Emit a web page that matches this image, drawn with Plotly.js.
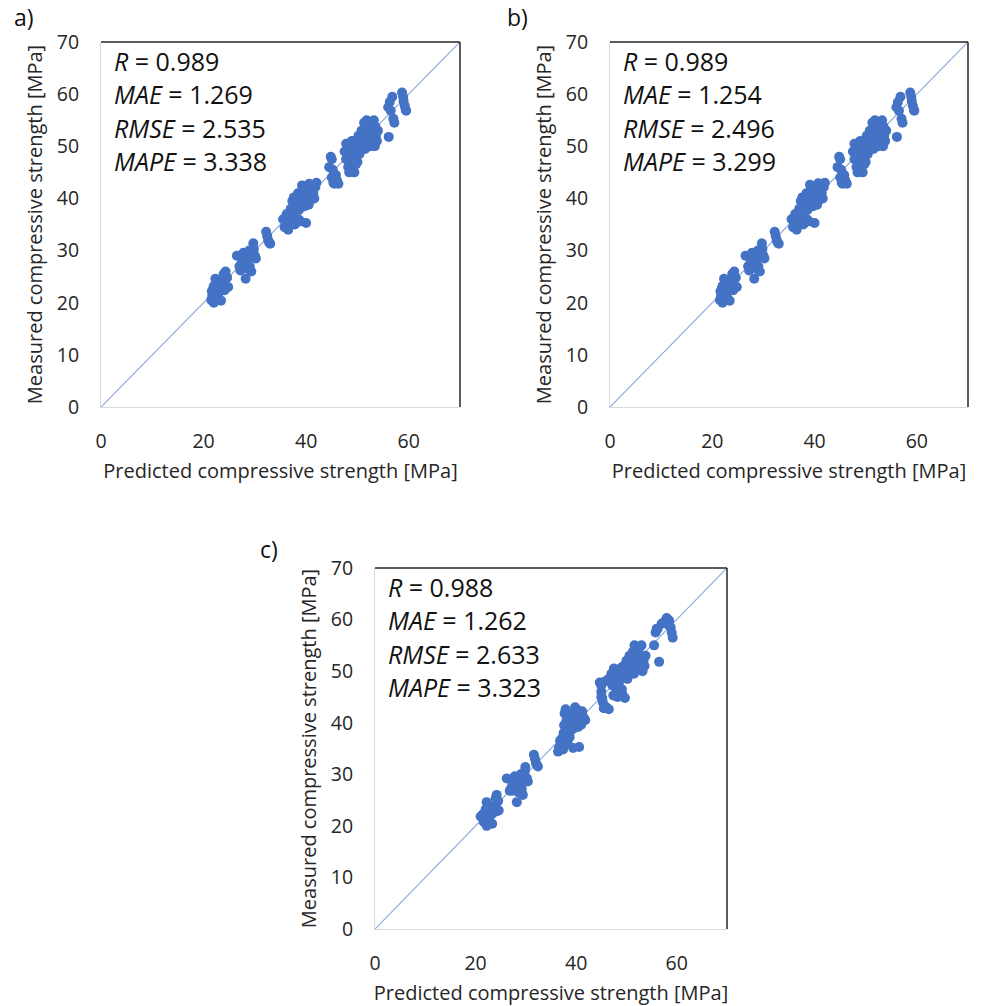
<!DOCTYPE html>
<html>
<head>
<meta charset="utf-8">
<script src="https://cdn.plot.ly/plotly-3.0.1.min.js"></script>
<style>html,body{margin:0;padding:0;background:#fff;} #chart{width:981px;height:1006px;}</style>
</head>
<body>
<div id="chart"></div>
<script>
// ---- Data ----
const predA = [21.5,21.7,21.6,21.9,22.0,22.3,22.6,22.4,22.9,23.1,23.4,22.3,23.7,23.9,24.3,24.6,24.8,24.1,22.0,22.7,23.4,
  26.5,27.0,27.2,27.5,27.8,28.0,28.2,28.5,28.7,28.9,29.0,29.3,29.5,29.7,30.0,30.2,27.3,28.4,29.8,
  32.2,32.4,32.6,32.8,33.0,
  35.5,35.8,36.0,36.2,36.3,36.5,36.8,37.0,37.2,37.3,37.5,37.6,37.8,38.0,38.2,38.4,38.6,38.8,39.0,39.2,39.4,38.9,39.7,39.9,40.0,40.2,40.4,40.6,40.8,41.0,41.2,41.4,41.6,41.8,42.0,38.5,37.0,36.6,39.6,40.5,
  44.5,44.8,45.0,45.0,45.3,45.5,45.8,46.0,46.3,45.2,
  47.5,47.8,48.0,48.2,48.4,48.6,48.8,49.0,49.2,49.4,49.6,49.8,50.0,50.2,50.4,50.6,50.8,51.0,51.2,51.4,51.6,51.8,52.0,52.2,52.4,52.6,52.8,53.0,53.2,53.4,53.6,53.8,54.0,49.0,50.5,48.5,51.5,52.5,47.8,50.0,49.7,48.9,51.3,53.5,
  56.0,56.3,56.5,56.8,57.0,57.2,56.1,58.7,58.9,59.0,59.2,59.4,59.5];
const measA = [20.5,21.3,22.2,22.8,20.0,21.5,22.6,23.4,20.9,22.1,23.0,24.6,24.0,25.5,26.0,24.8,23.0,22.4,23.2,20.6,20.4,
  29.0,27.0,26.2,28.0,29.6,27.5,24.6,26.5,28.3,30.0,27.0,26.0,29.2,31.4,29.0,28.5,26.8,29.0,30.3,
  33.6,32.8,32.0,31.5,31.3,
  36.0,34.5,35.5,37.0,36.2,34.0,35.8,38.0,36.5,39.5,37.5,40.2,35.0,38.5,39.8,41.0,37.8,40.5,39.0,42.5,41.2,35.6,38.5,40.0,35.3,39.5,41.5,42.8,40.5,39.8,42.0,41.0,40.0,42.2,43.0,36.0,37.0,36.8,40.8,38.8,
  46.0,48.0,47.5,44.0,43.0,42.8,44.5,43.5,42.8,45.5,
  49.0,50.5,48.0,46.0,45.0,49.5,47.0,50.0,48.5,45.0,51.0,49.0,50.2,52.0,48.5,51.5,53.0,50.0,52.5,51.0,53.5,55.0,52.0,50.5,53.0,54.0,51.5,52.5,55.0,50.0,52.0,51.0,53.0,47.5,49.5,48.8,49.5,50.0,47.5,47.0,46.5,51.0,54.5,53.8,
  57.5,58.5,56.8,59.5,55.3,54.5,51.8,60.3,59.5,58.7,57.8,57.0,56.8];

const predB = [21.5,21.7,21.6,21.9,22.0,22.3,22.6,22.4,22.9,23.1,23.4,22.3,23.7,23.9,24.3,24.6,24.8,24.1,22.0,22.7,23.4,
  26.5,27.0,27.2,27.5,27.8,28.0,28.2,28.5,28.7,28.9,29.0,29.3,29.5,29.7,30.0,30.2,27.3,28.4,29.8,
  32.2,32.4,32.6,32.8,33.0,
  35.5,35.8,36.0,36.2,36.3,36.5,36.8,37.0,37.2,37.3,37.5,37.6,37.8,38.0,38.2,38.4,38.6,38.8,39.0,39.1,39.4,38.9,39.7,39.9,40.0,40.2,40.4,40.7,40.8,41.0,41.2,41.4,41.6,41.8,42.0,38.5,37.0,36.6,39.6,40.5,
  44.5,44.8,45.0,45.0,45.3,45.5,45.8,46.0,46.3,45.2,
  47.5,47.8,48.0,48.2,48.4,48.6,48.8,49.0,49.2,49.4,49.6,49.8,50.0,50.2,50.4,50.6,50.8,51.0,51.2,51.4,51.6,51.8,52.0,52.2,52.4,52.6,52.8,53.0,53.2,53.4,53.6,53.8,54.0,49.0,50.5,48.5,51.5,52.5,47.8,50.0,49.7,48.9,51.3,53.5,
  56.0,56.3,56.5,56.8,57.0,57.2,56.1,58.7,58.9,59.0,59.2,59.4,59.5];
const measB = [20.5,21.3,22.2,22.8,20.0,21.5,22.6,23.4,20.9,22.1,23.0,24.6,24.0,25.5,26.0,24.8,23.0,22.4,23.2,20.6,20.4,
  29.0,27.0,26.2,28.0,29.6,27.5,24.6,26.5,28.3,30.0,27.0,26.0,29.2,31.4,29.0,28.5,26.8,29.0,30.3,
  33.6,32.8,32.0,31.5,31.3,
  36.0,34.5,35.5,37.0,36.2,34.0,35.8,38.0,36.5,39.5,37.5,40.2,35.0,38.5,39.8,41.0,37.8,40.5,39.0,42.6,41.2,35.6,38.5,40.0,35.3,39.5,41.5,42.9,40.5,39.8,42.0,41.0,40.0,42.2,43.0,36.0,37.0,36.8,40.8,38.8,
  46.0,48.0,47.5,44.0,43.0,42.8,44.5,43.5,42.8,45.5,
  49.0,50.5,48.0,46.0,45.0,49.5,47.0,50.0,48.5,45.0,51.0,49.0,50.2,52.0,48.5,51.5,53.0,50.0,52.5,51.0,53.5,55.0,52.0,50.5,53.0,54.0,51.5,52.5,55.0,50.0,52.0,51.0,53.0,47.5,49.5,48.8,49.5,50.0,47.5,47.0,46.5,51.0,54.5,53.8,
  57.5,58.5,56.8,59.5,55.3,54.5,51.8,60.3,59.5,58.7,57.8,57.0,56.8];

const predC = [21.0,21.4,21.6,21.9,22.2,22.5,22.8,22.4,22.9,23.2,23.5,22.2,23.8,24.0,24.2,24.5,24.6,24.1,22.0,22.7,23.3,
  26.2,26.8,27.1,27.4,27.8,28.0,28.2,28.5,28.7,29.0,29.2,29.4,29.6,29.9,30.2,30.4,27.3,28.4,29.8,
  31.6,31.8,32.0,32.2,32.4,
  36.4,36.6,36.8,37.0,37.2,37.3,37.5,37.6,37.8,38.0,38.2,38.4,38.6,38.8,37.4,37.9,38.3,38.7,37.1,37.7,
  39.0,39.2,39.4,39.6,39.8,40.0,40.2,40.4,40.6,40.8,41.0,41.2,41.5,41.8,39.4,40.6,39.7,40.3,
  44.7,45.0,45.0,45.3,45.5,45.0,46.0,46.5,45.7,45.2,
  46.5,47.0,47.2,47.5,47.8,48.0,48.2,48.4,48.6,48.8,49.0,49.2,49.4,49.6,49.8,50.0,50.2,50.4,50.6,50.8,51.0,51.2,51.4,51.6,51.8,52.0,52.2,52.4,52.6,52.8,53.0,53.2,53.4,53.6,53.8,47.4,48.3,49.1,50.3,51.5,52.5,49.7,48.9,51.3,
  55.5,55.8,56.0,56.5,57.5,58.0,58.5,58.8,59.0,59.2,58.3,57.0,56.2];
const measC = [21.8,22.2,20.8,22.6,20.0,21.5,22.4,23.4,20.6,22.2,23.2,24.6,24.0,25.4,26.0,24.8,23.0,22.8,23.2,20.8,20.4,
  29.2,26.8,27.4,28.0,29.6,27.5,24.6,26.5,28.3,30.0,27.2,26.0,29.2,31.4,29.2,28.6,26.8,29.0,30.6,
  33.8,33.0,32.2,31.8,31.5,
  34.4,35.2,36.5,35.8,37.0,36.2,38.0,39.5,37.5,40.2,41.0,38.5,39.8,40.5,34.8,42.6,36.0,37.2,35.5,41.8,
  38.5,39.5,41.0,42.2,43.0,40.0,42.5,39.2,41.5,40.8,39.6,42.2,41.0,40.5,35.1,35.3,39.0,41.8,
  47.8,46.0,45.0,44.0,42.8,47.2,43.0,42.6,48.0,44.8,
  48.5,49.5,47.2,50.5,48.0,46.0,45.0,49.5,47.0,50.0,48.5,45.5,51.0,49.0,50.2,52.0,48.5,51.5,53.0,50.0,52.5,51.0,53.5,55.0,52.0,50.5,53.0,54.0,51.5,52.5,55.0,50.0,52.0,51.0,53.0,45.3,49.0,46.5,51.8,49.5,52.3,44.8,50.6,53.8,
  55.0,57.5,58.2,51.8,59.5,60.3,59.8,58.5,57.5,56.5,59.0,59.2,58.2];

const stats = [
  ["0.989","1.269","2.535","3.338"],
  ["0.989","1.254","2.496","3.299"],
  ["0.988","1.262","2.633","3.323"]
];
const statNames = ["R","MAE","RMSE","MAPE"];
const panelLabels = ["a)","b)","c)"];
const diag = [0,70];
const xTicks = [0,20,40,60];
const yTicks = [0,10,20,30,40,50,60,70];

// ---- Layout helpers ----
const W = 981, H = 1006;
const boxes = [
  {l:101, r:460, t:42, b:407},
  {l:610, r:968, t:42, b:407},
  {l:375, r:727, t:568, b:929}
];
const labelPos = [[24,17],[517,17],[269,549]];
const blue = '#4472C4';
const lineBlue = '#8FAADC';
const font = 'Open Sans, Segoe UI, Calibri, sans-serif';
const textCol = '#262626';

const traces = [];
const layout = {
  width: W, height: H,
  margin: {l:0, r:0, t:0, b:0},
  paper_bgcolor: '#fff', plot_bgcolor: '#fff',
  showlegend: false,
  font: {family: font, color: textCol},
  annotations: [], shapes: []
};

const data = [[predA, measA],[predB, measB],[predC, measC]];
boxes.forEach((bx, i) => {
  const n = i === 0 ? '' : String(i+1);
  const xa = 'x' + n, ya = 'y' + n;
  traces.push({x: diag, y: diag, xaxis: xa, yaxis: ya, type: 'scatter', mode: 'lines',
    line: {color: lineBlue, width: 1.2}, hoverinfo: 'skip'});
  traces.push({x: data[i][0], y: data[i][1], xaxis: xa, yaxis: ya, type: 'scatter', mode: 'markers',
    marker: {color: blue, size: 10, line: {width: 0}}});
  layout['xaxis' + n] = {
    domain: [bx.l / W, bx.r / W], anchor: ya, range: [0, 70],
    tickvals: xTicks, ticktext: xTicks.map(String), ticks: '',
    showgrid: false, zeroline: false, showline: true, linecolor: '#d9d9d9', linewidth: 1,
    tickfont: {size: 19.5, color: textCol, family: font}, ticklabelstandoff: 17,
    title: {text: 'Predicted compressive strength [MPa]', font: {size: 20, color: textCol, family: font}, standoff: 10},
    automargin: false, fixedrange: true
  };
  layout['yaxis' + n] = {
    domain: [1 - bx.b / H, 1 - bx.t / H], anchor: xa, range: [0, 70],
    tickvals: yTicks, ticktext: yTicks.map(String), ticks: '',
    showgrid: false, zeroline: false, showline: true, linecolor: '#d9d9d9', linewidth: 1,
    tickfont: {size: 19.5, color: textCol, family: font}, ticklabelstandoff: 17,
    title: {text: 'Measured compressive strength [MPa]', font: {size: 20, color: textCol, family: font}, standoff: 8},
    automargin: false, fixedrange: true
  };
  // top and right border of plot area
  layout.shapes.push({type: 'line', xref: xa + ' domain', yref: ya + ' domain', x0: 0, x1: 1, y0: 1, y1: 1,
    line: {color: '#262626', width: 1.5}});
  layout.shapes.push({type: 'line', xref: xa + ' domain', yref: ya + ' domain', x0: 1, x1: 1, y0: 0, y1: 1,
    line: {color: '#262626', width: 1.5}});
  // statistics text
  statNames.forEach((nm, k) => {
    layout.annotations.push({
      xref: 'paper', yref: 'paper',
      x: (bx.l + 11) / W, y: 1 - (bx.t + 19 + 33.4 * k) / H,
      xanchor: 'left', yanchor: 'middle', showarrow: false,
      text: '<i>' + nm + '</i> = ' + stats[i][k],
      font: {size: 25, color: '#111', family: font}
    });
  });
  layout.annotations.push({
    xref: 'paper', yref: 'paper', x: labelPos[i][0] / W, y: 1 - labelPos[i][1] / H,
    xanchor: 'center', yanchor: 'middle', showarrow: false,
    text: panelLabels[i], font: {size: 23, color: '#111', family: font}
  });
});

Plotly.newPlot('chart', traces, layout, {staticPlot: true, displayModeBar: false});
</script>
</body>
</html>
